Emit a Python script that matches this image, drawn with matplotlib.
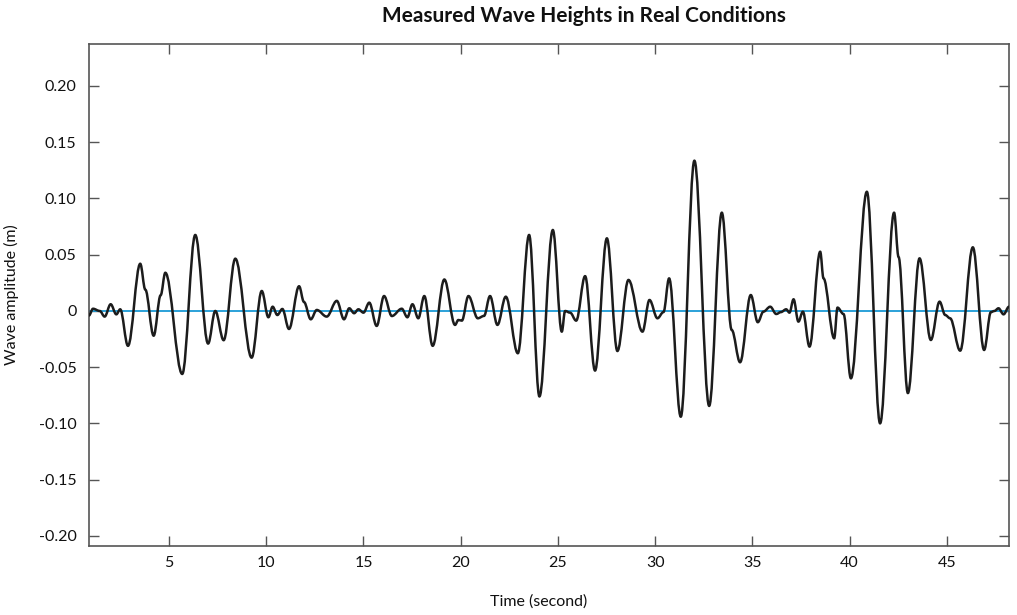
import matplotlib
matplotlib.use("Agg")
import matplotlib.pyplot as plt
from matplotlib.path import Path
from matplotlib.patches import PathPatch
from matplotlib.ticker import FixedLocator, FixedFormatter

# Time (s) of the extrema / shoulders
time_s = [0.885, 1.09, 1.44, 1.69, 2.00, 2.29, 2.49, 2.89, 3.52, 3.78,
          4.21, 4.57, 4.81, 5.68, 6.35, 7.01, 7.38, 7.81, 8.41, 9.25,
          9.77, 10.11, 10.33, 10.57, 10.83, 11.17, 11.69, 11.94, 12.29, 12.60,
          13.11, 13.63, 14.00, 14.27, 14.52, 14.74, 15.00, 15.30, 15.68, 16.06,
          16.46, 16.97, 17.26, 17.52, 17.82, 18.13, 18.56, 19.16, 19.71, 19.88,
          20.06, 20.40, 20.88, 21.20, 21.51, 21.89, 22.32, 22.94, 23.52, 24.05,
          24.74, 25.20, 25.37, 25.63, 25.94, 26.40, 26.91, 27.52, 28.06, 28.63,
          29.35, 29.71, 30.12, 30.43, 30.72, 31.32, 32.02, 32.78, 33.43, 33.94,
          34.37, 34.92, 35.28, 35.57, 35.92, 36.23, 36.47, 36.74, 36.91, 37.12,
          37.37, 37.60, 37.94, 38.49, 38.66, 39.21, 39.38, 39.69, 40.07, 40.89,
          41.57, 42.29, 42.52, 43.00, 43.60, 44.18, 44.63, 44.92, 45.17, 45.69,
          46.34, 46.92, 47.27, 47.45, 47.66, 47.92, 48.20]

# Wave amplitude (m)
amplitude = [-0.004, 0.002, 0.000, -0.005, 0.006, -0.003, 0.0015, -0.031, 0.042, 0.019,
             -0.022, 0.014, 0.034, -0.056, 0.0676, -0.029, 0.000, -0.026, 0.0465, -0.0415,
             0.0178, -0.0056, 0.0038, -0.0036, 0.0018, -0.016, 0.022, 0.008, -0.0074, 0.0009,
             -0.005, 0.009, -0.0074, 0.0024, -0.002, 0.0015, -0.0015, 0.0074, -0.0133, 0.0133,
             -0.0045, 0.002, -0.0056, 0.006, -0.0065, 0.0133, -0.031, 0.028, -0.0124, -0.008,
             -0.0086, 0.0133, -0.0065, -0.0044, 0.0133, -0.0124, 0.0127, -0.0376, 0.0676, -0.076,
             0.072, -0.0184, 0.000, -0.0015, -0.0086, 0.031, -0.053, 0.0646, -0.0356, 0.0276,
             -0.0184, 0.0098, -0.0065, -0.001, 0.029, -0.094, 0.1336, -0.0844, 0.0874, -0.0169,
             -0.0456, 0.0142, -0.010, -0.0006, 0.0038, -0.0027, -0.001, 0.0015, -0.0015, 0.0104,
             -0.0095, -0.0006, -0.0317, 0.0527, 0.029, -0.0243, 0.003, -0.0027, -0.0599, 0.106,
             -0.0999, 0.0874, 0.048, -0.073, 0.0468, -0.0258, 0.0083, -0.0036, -0.0065, -0.0353,
             0.0566, -0.0347, -0.001, 0.000, 0.0024, -0.003, 0.0038]

x_ticks = [5, 10, 15, 20, 25, 30, 35, 40, 45]
x_tick_labels = ["5", "10", "15", "20", "25", "30", "35", "40", "45"]
y_ticks = [-0.20, -0.15, -0.10, -0.05, 0.0, 0.05, 0.10, 0.15, 0.20]
y_tick_labels = ["-0.20", "-0.15", "-0.10", "-0.05", "0", "0.05", "0.10", "0.15", "0.20"]

plt.rcParams['font.family'] = ['Lato', 'DejaVu Sans']

fig = plt.figure(figsize=(10.17, 6.15), dpi=100)
ax = fig.add_axes([89 / 1017, 1 - 546 / 615, (1009 - 89) / 1017, (546 - 44) / 615])

ax.axhline(0, color="#1a9ad6", linewidth=1.3, zorder=2)

# Smooth wave: cubic Bezier segments through the read points (horizontal tangents at extrema)
verts = [(time_s[0], amplitude[0])]
codes = [Path.MOVETO]
for i in range(1, len(time_s)):
    t0, v0 = time_s[i - 1], amplitude[i - 1]
    t1, v1 = time_s[i], amplitude[i]
    dt = t1 - t0
    verts += [(t0 + dt * 0.36, v0), (t1 - dt * 0.36, v1), (t1, v1)]
    codes += [Path.CURVE4, Path.CURVE4, Path.CURVE4]
wave = PathPatch(Path(verts, codes), facecolor="none", edgecolor="#1c1c1c",
                 linewidth=1.8, joinstyle="round", capstyle="round",
                 transform=ax.transData, zorder=3)
ax.add_patch(wave)

ax.set_xlim(0.885, 48.2)
ax.set_ylim(-0.2089, 0.2373)

ax.xaxis.set_major_locator(FixedLocator(x_ticks))
ax.xaxis.set_major_formatter(FixedFormatter(x_tick_labels))
ax.yaxis.set_major_locator(FixedLocator(y_ticks))
ax.yaxis.set_major_formatter(FixedFormatter(y_tick_labels))

ax.tick_params(direction="in", length=7, width=1.0, color="#555555",
               top=True, right=True, labelsize=11.5, labelcolor="#111111")
ax.tick_params(axis="y", pad=9)
ax.tick_params(axis="x", pad=7)

for s in ax.spines.values():
    s.set_color("#555555")
    s.set_linewidth(1.2)

fig.text(539 / 1017, 1 - 602 / 615, "Time (second)", ha="center", va="center",
         fontsize=11.5, color="#111111")
ax.set_ylabel("Wave amplitude (m)", fontsize=11.5, labelpad=14, color="#111111")
fig.text(584 / 1017, 1 - 16 / 615, "Measured Wave Heights in Real Conditions",
         ha="center", va="center", fontsize=15, fontweight="bold", color="#111111")

fig.savefig("out.png", dpi=100, facecolor="white")
